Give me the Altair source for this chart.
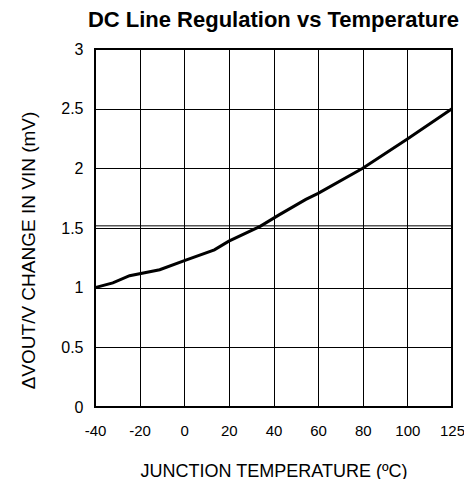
import altair as alt
import pandas as pd

temps = [-40, -32, -24.5, -11, 1, 13.5, 20, 34, 42.5, 54.5, 60, 80, 100, 125]
dvout = [1.0, 1.04, 1.10, 1.15, 1.233, 1.317, 1.39, 1.514, 1.61, 1.74, 1.79, 2.0, 2.245, 2.5]
x_ticks = [-40, -20, 0, 20, 40, 60, 80, 100, 125]
y_ticks = [0, 0.5, 1, 1.5, 2, 2.5, 3]
double_line = [1.518]

W, H = 357, 358
FONT = "Liberation Sans"

df = pd.DataFrame({"t": temps, "v": dvout})
xscale = alt.Scale(domain=[-40, 100, 125], range=[0, W * 7 / 8, W], nice=False)
yscale = alt.Scale(domain=[0, 3], nice=False)

base = alt.Chart(df)

line = base.mark_line(color="black", strokeWidth=3).encode(
    x=alt.X("t:Q", scale=xscale,
            axis=alt.Axis(values=x_ticks, grid=True, gridColor="black", gridOpacity=1,
                          gridWidth=1, ticks=False, tickSize=0, domain=False,
                          labelExpr="'' + datum.value",
                          labelFont=FONT, labelFontSize=15, labelColor="black",
                          labelPadding=23, labelBaseline="middle", labelFlush=False,
                          title="JUNCTION TEMPERATURE (ºC)", titleFont=FONT,
                          titleFontSize=18, titleFontWeight="normal", titleColor="black",
                          titleY=64, titleBaseline="middle")),
    y=alt.Y("v:Q", scale=yscale,
            axis=alt.Axis(values=y_ticks, grid=True, gridColor="black", gridOpacity=1,
                          gridWidth=1, ticks=False, tickSize=0, domain=False,
                          labelExpr="'' + datum.value",
                          labelFont=FONT, labelFontSize=16, labelColor="black",
                          labelPadding=12, labelFlush=False,
                          title="ΔVOUT/V CHANGE IN VIN (mV)", titleFont=FONT,
                          titleFontSize=19, titleFontWeight="normal", titleColor="black",
                          titleX=-67, titleY=201, titleAngle=-90, titleAlign="center",
                          titleBaseline="middle")),
)

dl = alt.Chart(pd.DataFrame({"y": double_line})).mark_rule(color="black", strokeWidth=1).encode(
    y=alt.Y("y:Q", scale=yscale)
)

chart = alt.layer(dl, line).properties(
    width=W, height=H,
    title=alt.TitleParams("DC Line Regulation vs Temperature", font=FONT, fontSize=22,
                          fontWeight="bold", color="black", anchor="middle", offset=9),
    autosize=alt.AutoSizeParams(type="none"),
    padding={"left": 87, "top": 41, "right": 12, "bottom": 72},
).configure_view(stroke="black", strokeWidth=2)

chart.save("out.html", embed_options={"renderer": "svg", "actions": False})
